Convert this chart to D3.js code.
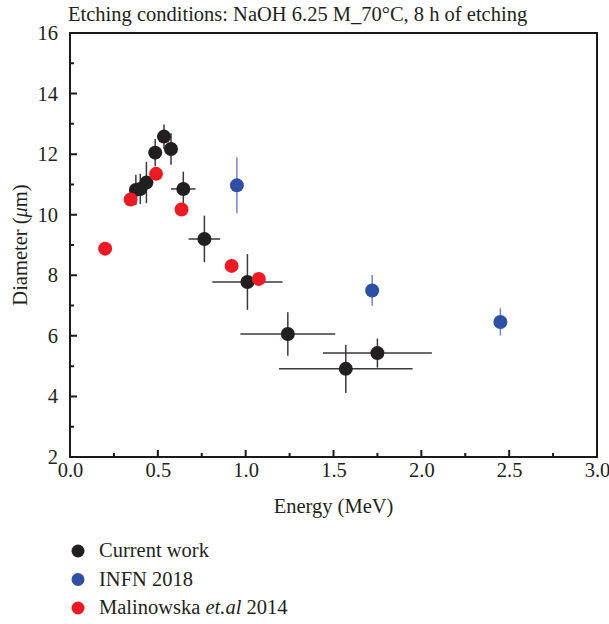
<!DOCTYPE html>
<html>
<head>
<meta charset="utf-8">
<script src="https://d3js.org/d3.v7.min.js"></script>
<style>
  body { margin: 0; background: #fff; }
  text { font-family: "Liberation Serif", "DejaVu Serif", serif; fill: #231f20; }
</style>
</head>
<body>
<script>
// current work
var currentE    = [0.375, 0.40, 0.435, 0.485, 0.535, 0.575, 0.645, 0.765, 1.01, 1.24, 1.57, 1.75];
var currentD    = [10.82, 10.85, 11.06, 12.05, 12.58, 12.17, 10.85, 9.2, 7.78, 6.06, 4.91, 5.43];
var currentEErr = [0, 0, 0, 0, 0.04, 0, 0.07, 0.09, 0.2, 0.27, 0.38, 0.31];
var currentDErr = [0.5, 0.5, 0.68, 0.45, 0.4, 0.52, 0.57, 0.77, 0.92, 0.72, 0.8, 0.48];

// INFN 2018
var infnE    = [0.95, 1.72, 2.45];
var infnD    = [10.97, 7.5, 6.46];
var infnDErr = [0.92, 0.51, 0.45];

// Malinowska et al 2014
var malE = [0.2, 0.345, 0.49, 0.635, 0.92, 1.075];
var malD = [8.88, 10.5, 11.35, 10.17, 8.31, 7.88];

var xTicks = [0, 0.5, 1.0, 1.5, 2.0, 2.5, 3.0];
var xMinor = [0.25, 0.75, 1.25, 1.75, 2.25, 2.75];
var yTicks = [2, 4, 6, 8, 10, 12, 14, 16];
var yMinor = [3, 5, 7, 9, 11, 13, 15];

var w = 609;
var h = 624;
var mLeft = 70, mRight = 597, mTop = 33, mBottom = 457;
var ptR = 7;
var fs = "20.5px";
var axisCol = "#1a1a1a";
var lw = 2;

var svg = d3.select("body")
  .append("svg")
  .attr("width", w)
  .attr("height", h)
  .style("display", "block");

var x = d3.scaleLinear().domain([0, 3]).range([mLeft, mRight]);
var y = d3.scaleLinear().domain([2, 16]).range([mBottom, mTop]);

// tick labels from the axes
svg.append("g")
  .attr("transform", "translate(0," + mBottom + ")")
  .call(d3.axisBottom(x).tickValues(xTicks).tickFormat(d3.format(".1f"))
    .tickSize(0).tickPadding(5));
svg.append("g")
  .attr("transform", "translate(" + mLeft + ",0)")
  .call(d3.axisLeft(y).tickValues(yTicks).tickSize(0).tickPadding(12));
svg.selectAll(".domain").remove();
svg.selectAll(".tick line").remove();
svg.selectAll(".tick text")
  .style("font-family", "'Liberation Serif', serif")
  .style("font-size", fs)
  .attr("fill", "#231f20");

// titles
svg.append("text")
  .attr("x", 68).attr("y", 21)
  .style("font-size", fs)
  .text("Etching conditions: NaOH 6.25 M_70°C, 8 h of etching");

svg.append("text")
  .attr("x", (mLeft + mRight) / 2).attr("y", 513)
  .attr("text-anchor", "middle")
  .style("font-size", fs)
  .text("Energy (MeV)");

var yl = svg.append("text")
  .attr("transform", "translate(27," + ((mTop + mBottom) / 2) + ") rotate(-90)")
  .attr("text-anchor", "middle")
  .style("font-size", fs);
yl.append("tspan").text("Diameter (");
yl.append("tspan").style("font-style", "italic").text("μ");
yl.append("tspan").text("m)");

// box and inward ticks, drawn as paths
var boxPath = d3.path();
boxPath.rect(x(0), y(16), x(3) - x(0), y(2) - y(16));
xTicks.forEach(function(t) { boxPath.moveTo(x(t), y(2)); boxPath.lineTo(x(t), y(2) - 7); });
xMinor.forEach(function(t) { boxPath.moveTo(x(t), y(2)); boxPath.lineTo(x(t), y(2) - 4); });
yTicks.forEach(function(t) { boxPath.moveTo(x(0), y(t)); boxPath.lineTo(x(0) + 7, y(t)); });
yMinor.forEach(function(t) { boxPath.moveTo(x(0), y(t)); boxPath.lineTo(x(0) + 4, y(t)); });
svg.append("path")
  .attr("d", boxPath.toString())
  .attr("fill", "none")
  .attr("stroke", axisCol)
  .attr("stroke-width", lw);

// current work
var cur = currentE.map(function(e, i) {
  return { e: e, d: currentD[i], ee: currentEErr[i], de: currentDErr[i] };
});
svg.append("g").selectAll("line")
  .data(cur.filter(function(d) { return d.ee > 0; }))
  .enter().append("line")
  .attr("x1", function(d) { return x(d.e - d.ee); })
  .attr("x2", function(d) { return x(d.e + d.ee); })
  .attr("y1", function(d) { return y(d.d); })
  .attr("y2", function(d) { return y(d.d); })
  .attr("stroke", "#3a3a3a").attr("stroke-width", 1.5);
svg.append("g").selectAll("line")
  .data(cur)
  .enter().append("line")
  .attr("x1", function(d) { return x(d.e); })
  .attr("x2", function(d) { return x(d.e); })
  .attr("y1", function(d) { return y(d.d - d.de); })
  .attr("y2", function(d) { return y(d.d + d.de); })
  .attr("stroke", "#3a3a3a").attr("stroke-width", 1.5);
svg.append("g").selectAll("circle")
  .data(cur)
  .enter().append("circle")
  .attr("cx", function(d) { return x(d.e); })
  .attr("cy", function(d) { return y(d.d); })
  .attr("r", ptR)
  .attr("fill", "#231f20");

// INFN
var infn = infnE.map(function(e, i) { return { e: e, d: infnD[i], de: infnDErr[i] }; });
svg.append("g").selectAll("line")
  .data(infn)
  .enter().append("line")
  .attr("x1", function(d) { return x(d.e); })
  .attr("x2", function(d) { return x(d.e); })
  .attr("y1", function(d) { return y(d.d - d.de); })
  .attr("y2", function(d) { return y(d.d + d.de); })
  .attr("stroke", "#6f86c6").attr("stroke-width", 1.5);
svg.append("g").selectAll("circle")
  .data(infn)
  .enter().append("circle")
  .attr("cx", function(d) { return x(d.e); })
  .attr("cy", function(d) { return y(d.d); })
  .attr("r", ptR)
  .attr("fill", "#2e50a4");

// Malinowska
svg.append("g").selectAll("circle")
  .data(malE)
  .enter().append("circle")
  .attr("cx", function(d) { return x(d); })
  .attr("cy", function(d, i) { return y(malD[i]); })
  .attr("r", ptR)
  .attr("fill", "#ed1c24");

// legend
var legendNames = ["Current work", "INFN 2018", "Malinowska "];
var legendColors = ["#231f20", "#2e50a4", "#ed1c24"];
var lg = svg.append("g").selectAll("g")
  .data(legendNames)
  .enter().append("g")
  .attr("transform", function(d, i) { return "translate(78," + (551 + i * 28.5) + ")"; });
lg.append("circle").attr("r", 6.5).attr("fill", function(d, i) { return legendColors[i]; });
var lt = lg.append("text")
  .attr("x", 21).attr("y", 6)
  .style("font-size", fs);
lt.append("tspan").text(function(d) { return d; });
lt.filter(function(d, i) { return i === 2; }).append("tspan").style("font-style", "italic").text("et.al");
lt.filter(function(d, i) { return i === 2; }).append("tspan").text(" 2014");
</script>
</body>
</html>
